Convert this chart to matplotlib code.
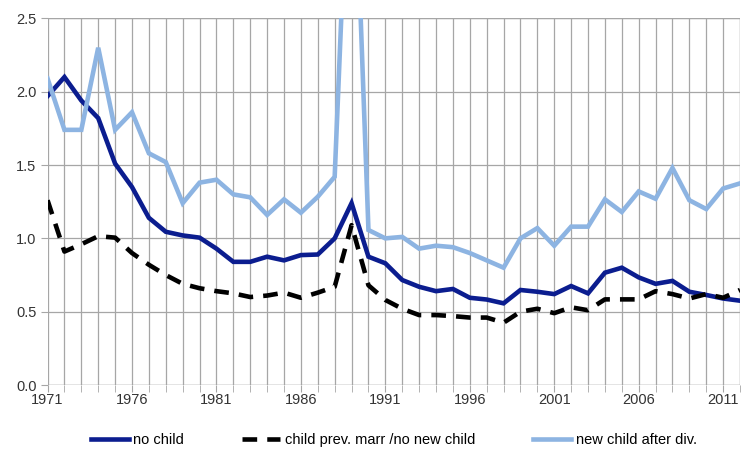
import matplotlib
matplotlib.use('Agg')
import matplotlib.pyplot as plt
from matplotlib.ticker import MultipleLocator, FixedLocator

plt.rcParams['font.family'] = ['Liberation Sans Narrow', 'Liberation Sans', 'DejaVu Sans']

years = list(range(1971, 2013))

no_child = [1.97, 2.10, 1.94, 1.82, 1.51, 1.35, 1.14, 1.045, 1.02, 1.005,
            0.93, 0.84, 0.84, 0.875, 0.85, 0.886, 0.89, 1.0, 1.24, 0.875,
            0.83, 0.716, 0.67, 0.64, 0.655, 0.595, 0.583, 0.557, 0.648, 0.636,
            0.62, 0.675, 0.625, 0.766, 0.80, 0.734, 0.69, 0.71, 0.636, 0.614,
            0.59, 0.575]

child_prev = [1.26, 0.91, 0.96, 1.015, 1.005, 0.90, 0.82, 0.75, 0.69, 0.66,
              0.64, 0.625, 0.60, 0.61, 0.63, 0.595, 0.63, 0.67, 1.09, 0.68,
              0.58, 0.52, 0.477, 0.477, 0.47, 0.46, 0.46, 0.425, 0.50, 0.52,
              0.49, 0.53, 0.51, 0.584, 0.584, 0.584, 0.64, 0.62, 0.59, 0.62,
              0.595, 0.648]

new_child = [2.09, 1.74, 1.74, 2.30, 1.74, 1.86, 1.58, 1.52, 1.24, 1.38,
             1.40, 1.30, 1.28, 1.16, 1.266, 1.175, 1.284, 1.42, 4.2, 1.057,
             1.0, 1.01, 0.93, 0.95, 0.94, 0.90, 0.85, 0.80, 1.0, 1.07,
             0.95, 1.08, 1.08, 1.266, 1.18, 1.32, 1.27, 1.48, 1.26, 1.20,
             1.34, 1.375]

xlabels = [1971, 1976, 1981, 1986, 1991, 1996, 2001, 2006, 2011]

fig = plt.figure(figsize=(7.43, 4.49), dpi=100)
ax = fig.add_axes([0.064, 0.1425, 0.932, 0.8165])

ax.plot(years, no_child, color='#0b1d8f', lw=3.3, label='no child', zorder=3,
        solid_joinstyle='miter')
ax.plot(years, child_prev, color='black', lw=3.3, dashes=(3.2, 2.2),
        label='child prev. marr /no new child', zorder=4)
ax.plot(years, new_child, color='#8db4e2', lw=3.3, label='new child after div.', zorder=5,
        solid_joinstyle='miter')

ax.set_xlim(1971, 2012)
ax.set_ylim(0, 2.5)
ax.yaxis.set_major_locator(MultipleLocator(0.5))
ax.yaxis.set_major_formatter(matplotlib.ticker.FormatStrFormatter('%.1f'))
ax.xaxis.set_major_locator(FixedLocator(xlabels))
ax.xaxis.set_minor_locator(MultipleLocator(1))

ax.grid(True, which='both', axis='x', color='#a6a6a6', lw=0.9, zorder=0)
ax.grid(True, which='major', axis='y', color='#a6a6a6', lw=0.9, zorder=0)
for s in ax.spines.values():
    s.set_visible(False)
ax.axhline(0, color='#a6a6a6', lw=1.0, zorder=1)
ax.axhline(2.5, color='#a6a6a6', lw=0.9, zorder=1)
ax.axvline(2012, color='#a6a6a6', lw=0.9, zorder=1)

ax.tick_params(axis='x', which='both', length=5, color='#a6a6a6', direction='out',
               labelsize=10.5, pad=1, labelcolor='#333333')
ax.tick_params(axis='y', length=5, color='#a6a6a6', labelsize=10.5, pad=3,
               labelcolor='#333333')

fig.legend(loc='lower center', ncol=3, frameon=False, fontsize=10.5,
           bbox_to_anchor=(0.53, -0.025), handlelength=2.6, columnspacing=4.0,
           handletextpad=0.3)

fig.savefig('out.png', dpi=100)
